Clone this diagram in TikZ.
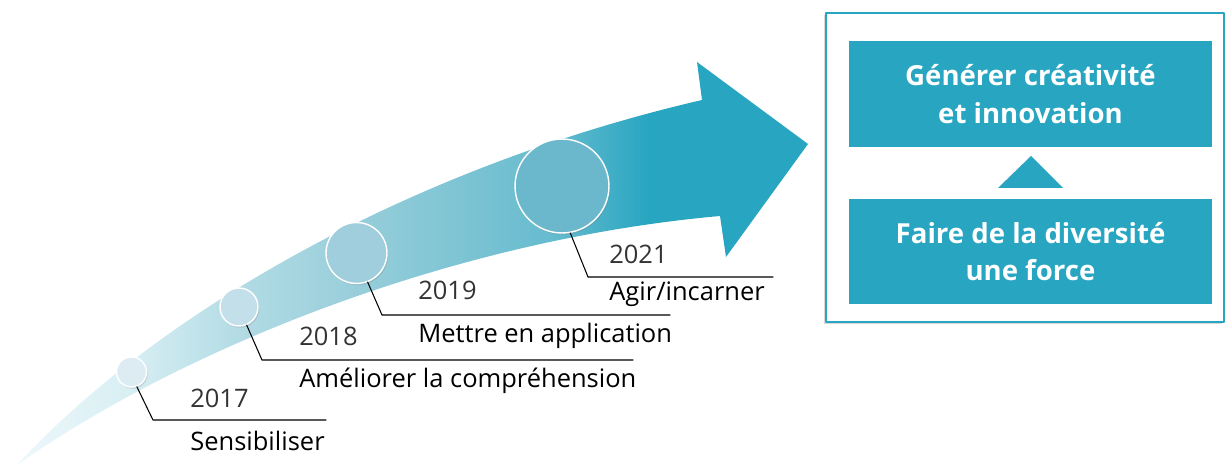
\documentclass[tikz,border=0pt]{standalone}
\usepackage{fontspec}
\setmainfont{Open Sans}
\usetikzlibrary{shadows}
\definecolor{teal0}{RGB}{39,165,193}
\definecolor{sw1}{HTML}{DCECF2}
\definecolor{sw2}{HTML}{C3DFE9}
\definecolor{sw3}{HTML}{A0CEDD}
\definecolor{sw4}{HTML}{6BB8CD}
% degrade de la fleche (25bp = pointe gauche, 75bp = pointe droite)
\pgfdeclarehorizontalshading{swoosh}{100bp}{color(0bp)=(white!92!teal0); color(25bp)=(white!92!teal0);
  color(32bp)=(white!82!teal0); color(39bp)=(white!66!teal0!95!gray); color(47bp)=(white!52!teal0!92!gray);
  color(59bp)=(white!28!teal0!95!gray); color(65bp)=(teal0); color(100bp)=(teal0)}
\begin{document}
\begin{tikzpicture}[x=0.02cm, y=-0.02cm, line join=round, line cap=round,
  font=\fontsize{14.5}{17}\selectfont,
  milestone/.style={circle, draw=white, line width=0.8pt, inner sep=0pt,
    drop shadow={opacity=0.25, shadow xshift=0.7pt, shadow yshift=-1pt}},
  leader/.style={line width=0.6pt},
  yeartext/.style={anchor=base west, inner sep=0pt, text=black!80},
  steptext/.style={anchor=base west, inner sep=0pt, text=black},
  goal/.style={fill=teal0, text=white, inner sep=0pt, minimum width=7.26cm, minimum height=2.12cm,
    align=center, font=\fontsize{15.7}{21.5}\selectfont\bfseries}]
	\useasboundingbox (0,0) rectangle (1225,466);
	% fleche
	\shade[shading=swoosh] (17,465) .. controls (150,320) and (400,170) .. (702,100) -- (697,62)
	  -- (808,144) -- (726,257) -- (720,216) .. controls (450,240) and (180,350) .. (17,465) -- cycle;
	% jalons
	\foreach \n/\x/\y/\r/\c/\a/\kx/\ky/\ex in {2017/131.5/372/15/sw1/-70/153/420/326,
	  2018/239/307/19/sw2/-67/262/360/633, 2019/356.5/253/30.5/sw3/-69/382/315/670,
	  2021/562/186/47/sw4/-80/588/277/773}{
		\node[milestone, minimum size=\r*0.04cm, fill=\c] (c\n) at (\x,\y) {};
		\coordinate (k\n) at (\kx,\ky);
		\coordinate (e\n) at (\ex,\ky);
		\draw[leader] (c\n.\a) -- (k\n) -- (e\n);
	}
	\node[yeartext] (y2017) at (190,407) {2017};
	\node[steptext] (s2017) at (190,450) {Sensibiliser};
	\node[yeartext] (y2018) at (299,345) {2018};
	\node[steptext] (s2018) at (299,387) {Améliorer la compréhension};
	\node[yeartext] (y2019) at (418,299) {2019};
	\node[steptext] (s2019) at (418,342) {Mettre en application};
	\node[yeartext] (y2021) at (609,263) {2021};
	\node[steptext] (s2021) at (609,300) {Agir/incarner};
	% cadre
	\draw[teal0, line width=1.2pt, fill=white, drop shadow={opacity=0.3, shadow xshift=-1pt, shadow yshift=-1pt}]
	  (826,13) rectangle (1224,322);
	\node[goal] (gen) at (1030.5,94) {Générer créativité\\et innovation};
	\node[goal] (div) at (1030.5,251.5) {Faire de la diversité\\une force};
	\fill[teal0] (998,188) -- (1031,156) -- (1063,188) -- cycle;
\end{tikzpicture}
\end{document}
